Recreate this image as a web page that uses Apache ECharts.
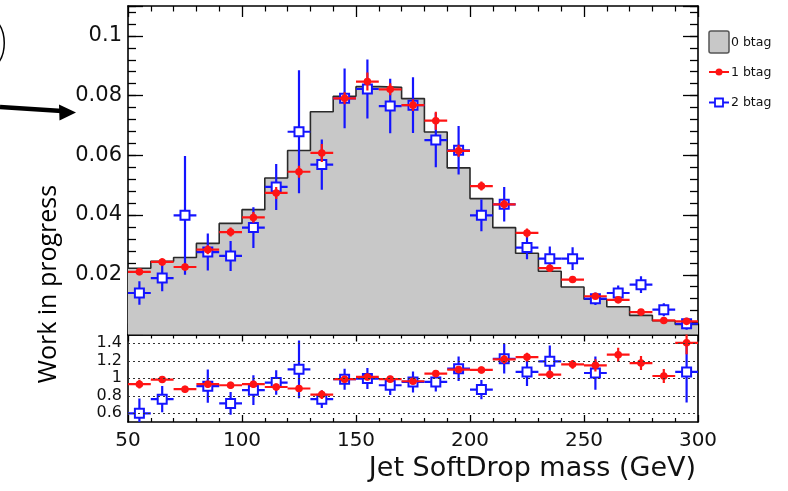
<!DOCTYPE html>
<html><head><meta charset="utf-8">
<script src="https://cdn.jsdelivr.net/npm/echarts@6/dist/echarts.min.js"></script>
<style>html,body{margin:0;padding:0;background:#fff}#c{width:788px;height:491px}</style>
</head><body><div id="c"></div>
<script>
// ---- data ----
const binEdges = [50,60,70,80,90,100,110,120,130,140,150,160,170,180,190,200,210,220,230,240,250,260,270,280,290,300];
const binCenters = [55,65,75,85,95,105,115,125,135,145,155,165,175,185,195,205,215,225,235,245,255,265,275,285,295];
const xTickLabels = [50,100,150,200,250,300];
const zeroBtag = [0.0222,0.0245,0.0258,0.0305,0.0372,0.0418,0.0524,0.0616,0.0746,0.0798,0.0830,0.0828,0.0790,0.0678,0.0558,0.0455,0.0358,0.0272,0.0212,0.0159,0.0118,0.0093,0.0064,0.0046,0.0034];
const oneBtag = [0.0210,0.0243,0.0226,0.0284,0.0343,0.0392,0.0474,0.0545,0.0608,0.0791,0.0847,0.0821,0.0768,0.0716,0.0615,0.0497,0.0436,0.0340,0.0222,0.0184,0.0128,0.0116,0.0075,0.0047,0.0044];
const oneBtagErr = [0.0012,0.0012,0.0012,0.0015,0.0015,0.0018,0.002,0.002,0.003,0.002,0.003,0.002,0.002,0.003,0.002,0.0015,0.0015,0.0015,0.0012,0.001,0.001,0.001,0.001,0.0008,0.0008];
const twoBtag = [0.0139,0.0189,0.0399,0.0276,0.0263,0.0358,0.0494,0.0679,0.0569,0.0791,0.0822,0.0765,0.0768,0.0651,0.0617,0.0399,0.0436,0.0291,0.0254,0.0254,0.0120,0.0139,0.0167,0.0083,0.0036];
const twoBtagErr = [0.0039,0.0044,0.0199,0.0062,0.005,0.0068,0.0077,0.0206,0.0084,0.0100,0.0099,0.0091,0.0093,0.0091,0.0081,0.0053,0.0058,0.0039,0.0041,0.0038,0.0021,0.0025,0.0028,0.0022,0.002];
const ratioOne = [0.932,0.985,0.875,0.932,0.92,0.932,0.90,0.883,0.814,0.989,1.015,0.99,0.966,1.053,1.099,1.095,1.216,1.242,1.042,1.159,1.148,1.269,1.174,1.026,1.405];
const ratioOneErr = [0.05,0.04,0.04,0.04,0.04,0.04,0.04,0.04,0.05,0.04,0.04,0.03,0.03,0.04,0.04,0.04,0.05,0.05,0.05,0.05,0.07,0.08,0.08,0.08,0.13];
const ratioTwo = [0.599,0.761,null,0.909,0.712,0.864,0.951,1.102,0.761,0.989,0.996,0.92,0.958,0.958,1.11,0.871,1.223,1.072,1.193,null,1.06,null,null,null,1.072];
const ratioTwoErr = [0.17,0.15,0,0.19,0.13,0.17,0.14,0.33,0.10,0.12,0.12,0.11,0.12,0.11,0.14,0.11,0.17,0.16,0.18,0,0.19,0,0,0,0.35];
const ratioGridValues = [0.6,0.8,1.0,1.2,1.4];
const legendNames = ['0 btag','1 btag','2 btag'];

// ---- styling ----
const RED = '#ff1414', BLUE = '#1414ff', GREY = '#c8c8c8';
const FONT = '"DejaVu Sans", sans-serif';
const HALF = 5;

const chart = echarts.init(document.getElementById('c'), null, {renderer:'canvas'});

function pts(vals, errs){
  return binCenters.map((c,i)=>[c, vals[i], errs[i]]).filter(d=>d[1]!=null);
}
function makeRender(kind){
  return function(params, api){
    const x = api.value(0), y = api.value(1), e = api.value(2);
    const c = api.coord([x,y]);
    const l = api.coord([x-HALF,y]), r = api.coord([x+HALF,y]);
    const t = api.coord([x,y+e]), b = api.coord([x,y-e]);
    const color = kind==='red' ? RED : BLUE;
    const ch = [
      {type:'line', shape:{x1:l[0],y1:c[1],x2:r[0],y2:c[1]}, style:{stroke:color,lineWidth:2.2}},
      {type:'line', shape:{x1:c[0],y1:t[1],x2:c[0],y2:b[1]}, style:{stroke:color,lineWidth:2.2}}
    ];
    if (kind==='red') ch.push({type:'circle', shape:{cx:c[0],cy:c[1],r:3.8}, style:{fill:RED}});
    else ch.push({type:'rect', shape:{x:c[0]-4.5,y:c[1]-4.5,width:9,height:9}, style:{fill:'#fff',stroke:BLUE,lineWidth:2}});
    return {type:'group', children:ch};
  };
}
const axLine = {show:true, onZero:false, lineStyle:{color:'#000', width:1.6}};
function xAx(grid, pos, showLabel, major, minor){
  return {type:'value', gridIndex:grid, position:pos, min:50, max:300, interval:50,
    axisLine:axLine, splitLine:{show:false},
    axisTick:{show:true, inside:true, length:major, lineStyle:{color:'#000',width:1.3}},
    minorTick:{show:true, splitNumber:5, length:minor, lineStyle:{color:'#000',width:1.2}},
    axisLabel:{show:showLabel, fontFamily:FONT, fontSize:20, color:'#111', margin:9,
      formatter:v=>xTickLabels.indexOf(v)>=0?String(v):''}};
}
function yMain(pos, interval, len, showLabel, line){
  return {type:'value', gridIndex:0, position:pos, min:0, max:0.11, interval:interval,
    axisLine: line ? axLine : {show:false}, splitLine:{show:false},
    axisTick:{show:true, inside:true, length:len, lineStyle:{color:'#000',width:1.3}},
    axisLabel:{show:showLabel, fontFamily:FONT, fontSize:21, color:'#111', margin:6, padding:[6,0,0,0],
      formatter:v=>(v<0.001||v>0.105)?'':String(Math.round(v*100)/100)}};
}

const option = {
  animation:false,
  backgroundColor:'#fff',
  grid:[
    {left:128, top:6, width:570, height:328.5},
    {left:128, top:334.5, width:570, height:87.5}
  ],
  xAxis:[ xAx(0,'bottom',false,11,5.5), xAx(0,'top',false,11,5.5), xAx(1,'bottom',true,7,4), xAx(1,'top',false,7,4) ],
  yAxis:[
    yMain('left',0.02,15,true,true),
    yMain('left',0.004,8,false,false),
    yMain('right',0.02,15,false,true),
    yMain('right',0.004,8,false,false),
    {type:'value', gridIndex:1, position:'left', min:0.5, max:1.5, interval:0.1,
      axisLine:axLine, splitLine:{show:false}, axisTick:{show:false},
      axisLabel:{fontFamily:FONT, fontSize:16, color:'#111', margin:6,
        formatter:v=>{const r=Math.round(v*10); return (r%2===0&&r>=6&&r<=14)?String(r/10):'';}}},
    {type:'value', gridIndex:1, position:'right', min:0.5, max:1.5, interval:0.1,
      axisLine:axLine, splitLine:{show:false}, axisTick:{show:false}, axisLabel:{show:false}}
  ],
  series:[
    {name:legendNames[0], type:'line', xAxisIndex:0, yAxisIndex:0, step:'end', showSymbol:false, symbol:'none',
      data: binEdges.map((e,i)=>[e, zeroBtag[Math.min(i, zeroBtag.length-1)]]),
      lineStyle:{color:'#2a2a2a', width:1.6}, areaStyle:{color:GREY, opacity:1}, z:1},
    {name:legendNames[2], type:'custom', xAxisIndex:0, yAxisIndex:0, clip:true,
      data: pts(twoBtag, twoBtagErr), renderItem: makeRender('blue'), z:3},
    {name:legendNames[1], type:'custom', xAxisIndex:0, yAxisIndex:0, clip:true,
      data: pts(oneBtag, oneBtagErr), renderItem: makeRender('red'), z:4},
    {type:'line', xAxisIndex:2, yAxisIndex:4, data:[], silent:true,
      markLine:{silent:true, symbol:'none', label:{show:false},
        lineStyle:{type:[2,3], color:'#333', width:1.2},
        data: ratioGridValues.map(v=>({yAxis:v}))}},
    {type:'custom', xAxisIndex:2, yAxisIndex:4, clip:true,
      data: pts(ratioTwo, ratioTwoErr), renderItem: makeRender('blue'), z:3},
    {type:'custom', xAxisIndex:2, yAxisIndex:4, clip:true,
      data: pts(ratioOne, ratioOneErr), renderItem: makeRender('red'), z:4}
  ],
  graphic:[
    {type:'text', x:49, y:284, rotation:Math.PI/2,
      style:{text:'Work in progress', font:'25px "Open Sans", sans-serif', fill:'#000', textAlign:'center', textVerticalAlign:'middle'}},
    {type:'text', x:696, y:469,
      style:{text:'Jet SoftDrop mass (GeV)', font:'27px '+FONT, fill:'#111', textAlign:'right', textVerticalAlign:'middle'}},
    {type:'line', shape:{x1:0,y1:107,x2:62,y2:111}, style:{stroke:'#000', lineWidth:4.5}},
    {type:'polygon', shape:{points:[[76,112.5],[59,104.5],[59.5,120.5]]}, style:{fill:'#000'}},
    {type:'bezierCurve', shape:{x1:-1,y1:24,x2:-1,y2:62,cpx1:6,cpy1:34,cpx2:6,cpy2:52}, style:{stroke:'#000', lineWidth:1.5, fill:null}},
    {type:'rect', shape:{x:709,y:31,width:20,height:22,r:2}, style:{fill:GREY, stroke:'#555', lineWidth:1.5}},
    {type:'text', x:731, y:43, style:{text:legendNames[0], font:'12.5px '+FONT, fill:'#111', textVerticalAlign:'middle'}},
    {type:'line', shape:{x1:709,y1:72,x2:729,y2:72}, style:{stroke:RED, lineWidth:2}},
    {type:'circle', shape:{cx:719,cy:72,r:3.5}, style:{fill:RED}},
    {type:'text', x:731, y:73, style:{text:legendNames[1], font:'12.5px '+FONT, fill:'#111', textVerticalAlign:'middle'}},
    {type:'line', shape:{x1:709,y1:102.5,x2:729,y2:102.5}, style:{stroke:BLUE, lineWidth:2}},
    {type:'rect', shape:{x:715,y:98.5,width:8,height:8}, style:{fill:'#fff', stroke:BLUE, lineWidth:1.8}},
    {type:'text', x:731, y:103, style:{text:legendNames[2], font:'12.5px '+FONT, fill:'#111', textVerticalAlign:'middle'}}
  ]
};
chart.setOption(option);
</script>
</body></html>
